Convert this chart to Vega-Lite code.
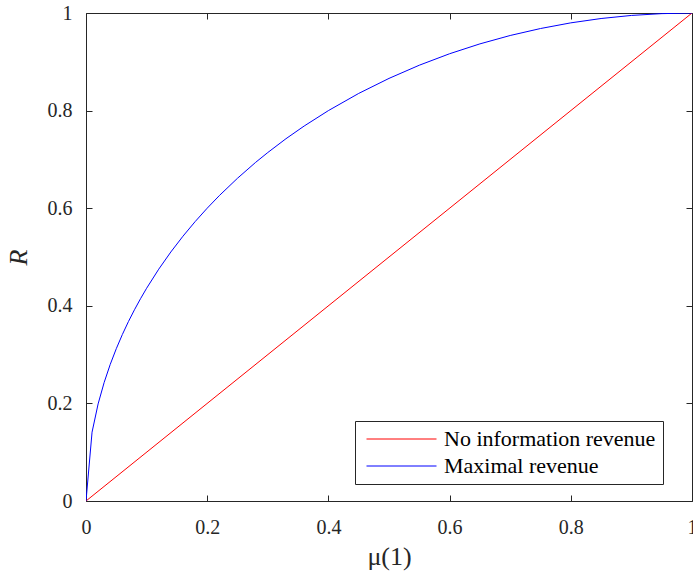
{
  "$schema": "https://vega.github.io/schema/vega-lite/v6.json",
  "autosize": "none",
  "padding": {"left": 86, "top": 13, "right": 1, "bottom": 77},
  "width": 606,
  "height": 488,
  "background": "white",
  "config": {
    "view": {"stroke": null},
    "font": "Liberation Serif",
    "axis": {
      "domainColor": "#262626",
      "tickColor": "#262626",
      "labelColor": "#262626",
      "titleColor": "#262626",
      "labelFont": "Liberation Serif",
      "titleFont": "Liberation Serif",
      "labelFontSize": 20,
      "titleFontSize": 26,
      "titleFontWeight": "normal",
      "grid": false,
      "tickSize": -6,
      "domainWidth": 1,
      "tickWidth": 1,
      "format": "~g"
    }
  },
  "data": {
    "values": [
      {"mu": 0, "R": 0, "series": "No information revenue"},
      {"mu": 1, "R": 1, "series": "No information revenue"},
      {"mu": 0, "R": 0, "series": "Maximal revenue"},
      {"mu": 0.01, "R": 0.1411, "series": "Maximal revenue"},
      {"mu": 0.02, "R": 0.199, "series": "Maximal revenue"},
      {"mu": 0.03, "R": 0.2431, "series": "Maximal revenue"},
      {"mu": 0.04, "R": 0.28, "series": "Maximal revenue"},
      {"mu": 0.05, "R": 0.3122, "series": "Maximal revenue"},
      {"mu": 0.06, "R": 0.3412, "series": "Maximal revenue"},
      {"mu": 0.07, "R": 0.3676, "series": "Maximal revenue"},
      {"mu": 0.08, "R": 0.3919, "series": "Maximal revenue"},
      {"mu": 0.09, "R": 0.4146, "series": "Maximal revenue"},
      {"mu": 0.1, "R": 0.4359, "series": "Maximal revenue"},
      {"mu": 0.12, "R": 0.475, "series": "Maximal revenue"},
      {"mu": 0.14, "R": 0.5103, "series": "Maximal revenue"},
      {"mu": 0.16, "R": 0.5426, "series": "Maximal revenue"},
      {"mu": 0.18, "R": 0.5724, "series": "Maximal revenue"},
      {"mu": 0.2, "R": 0.6, "series": "Maximal revenue"},
      {"mu": 0.22, "R": 0.6258, "series": "Maximal revenue"},
      {"mu": 0.25, "R": 0.6614, "series": "Maximal revenue"},
      {"mu": 0.28, "R": 0.694, "series": "Maximal revenue"},
      {"mu": 0.3, "R": 0.7141, "series": "Maximal revenue"},
      {"mu": 0.33, "R": 0.7424, "series": "Maximal revenue"},
      {"mu": 0.36, "R": 0.7684, "series": "Maximal revenue"},
      {"mu": 0.4, "R": 0.8, "series": "Maximal revenue"},
      {"mu": 0.45, "R": 0.8352, "series": "Maximal revenue"},
      {"mu": 0.5, "R": 0.866, "series": "Maximal revenue"},
      {"mu": 0.55, "R": 0.893, "series": "Maximal revenue"},
      {"mu": 0.6, "R": 0.9165, "series": "Maximal revenue"},
      {"mu": 0.65, "R": 0.9367, "series": "Maximal revenue"},
      {"mu": 0.7, "R": 0.9539, "series": "Maximal revenue"},
      {"mu": 0.75, "R": 0.9682, "series": "Maximal revenue"},
      {"mu": 0.8, "R": 0.9798, "series": "Maximal revenue"},
      {"mu": 0.85, "R": 0.9887, "series": "Maximal revenue"},
      {"mu": 0.9, "R": 0.995, "series": "Maximal revenue"},
      {"mu": 0.95, "R": 0.9987, "series": "Maximal revenue"},
      {"mu": 1, "R": 1, "series": "Maximal revenue"}
    ]
  },
  "layer": [
    {
      "mark": {"type": "line", "strokeWidth": 1, "clip": true},
      "encoding": {
        "x": {
          "field": "mu", "type": "quantitative",
          "scale": {"domain": [0, 1], "nice": false, "zero": false},
          "axis": {"orient": "bottom", "title": "μ(1)", "values": [0, 0.2, 0.4, 0.6, 0.8, 1], "labelPadding": 22, "titlePadding": 6, "labelFlush": false}
        },
        "y": {
          "field": "R", "type": "quantitative",
          "scale": {"domain": [0, 1], "nice": false, "zero": false},
          "axis": {"orient": "left", "title": "R", "titleFontStyle": "italic", "values": [0, 0.2, 0.4, 0.6, 0.8, 1], "labelPadding": 20, "titlePadding": 16, "labelFlush": false}
        },
        "color": {
          "field": "series", "type": "nominal",
          "scale": {"domain": ["No information revenue", "Maximal revenue"], "range": ["#ff0000", "#0000ff"]},
          "legend": {
            "title": null,
            "orient": "none",
            "legendX": 269,
            "legendY": 408,
            "symbolType": "M-0.5,0H9.5",
            "symbolSize": 196,
            "symbolStrokeWidth": 1,
            "symbolOffset": -3,
            "labelFontSize": 22,
            "labelFont": "Liberation Serif",
            "labelColor": "#000000",
            "labelOffset": 63,
            "labelLimit": 400,
            "strokeColor": "#262626",
            "fillColor": "white",
            "padding": 7,
            "rowPadding": 5
          }
        }
      }
    },
    {
      "mark": {"type": "line", "opacity": 0},
      "encoding": {
        "x": {"field": "mu", "type": "quantitative", "axis": {"orient": "top", "title": null, "labels": false, "values": [0, 0.2, 0.4, 0.6, 0.8, 1]}},
        "y": {"field": "R", "type": "quantitative", "axis": {"orient": "right", "title": null, "labels": false, "values": [0, 0.2, 0.4, 0.6, 0.8, 1]}},
        "detail": {"field": "series"}
      }
    }
  ],
  "resolve": {"axis": {"x": "independent", "y": "independent"}}
}
